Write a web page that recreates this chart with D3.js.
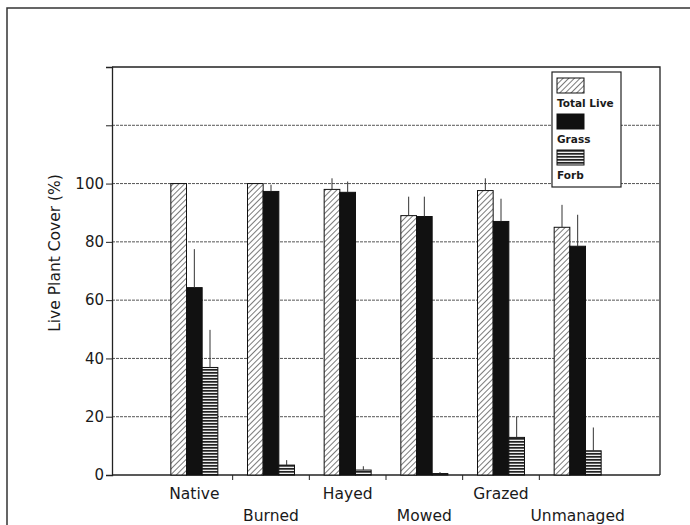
<!DOCTYPE html>
<html>
<head>
<meta charset="utf-8">
<script src="https://cdn.jsdelivr.net/npm/d3@7"></script>
<style>
  body { margin: 0; background: #fff; }
  text { font-family: 'DejaVu Sans', sans-serif; fill: #1a1a1a; }
</style>
</head>
<body>
<div class="chart"></div>
<script>
var categories = ['Native', 'Burned', 'Hayed', 'Mowed', 'Grazed', 'Unmanaged'];
var seriesNames = ['Total Live', 'Grass', 'Forb'];
var totalLive = [100, 100, 98, 89, 97.6, 85];
var totalLiveErr = [0, 0, 3.8, 6.5, 4.2, 7.7];
var grass = [64.3, 97.3, 97, 88.7, 87, 78.5];
var grassErr = [13.2, 2.3, 3.7, 6.8, 7.8, 10.8];
var forb = [36.9, 3.4, 1.7, 0.5, 12.9, 8.3];
var forbErr = [12.9, 1.7, 1.3, 0.5, 7, 8];
var yTicks = [0, 20, 40, 60, 80, 100, 120, 140];
var yTickLabels = ['0', '20', '40', '60', '80', '100', '', ''];

// plot box (window.top is read-only, so no bare "top" here)
var width = 690,
    height = 525,
    plotLeft = 112,
    plotRight = 660,
    plotTop = 67,
    plotBottom = 475;

var svg = d3.select('.chart').append('svg')
  .attr('width', width)
  .attr('height', height);

// fill patterns
var defs = svg.append('defs');
var hatch = defs.append('pattern')
  .attr('id', 'hatch')
  .attr('patternUnits', 'userSpaceOnUse')
  .attr('width', 4)
  .attr('height', 4)
  .attr('patternTransform', 'rotate(45)');
hatch.append('rect').attr('width', 4).attr('height', 4).attr('fill', '#fff');
hatch.append('line')
  .attr('x1', 0).attr('y1', 0).attr('x2', 0).attr('y2', 4)
  .attr('stroke', '#333').attr('stroke-width', 1.3);

var stripes = defs.append('pattern')
  .attr('id', 'stripes')
  .attr('patternUnits', 'userSpaceOnUse')
  .attr('width', 4)
  .attr('height', 3);
stripes.append('rect').attr('width', 4).attr('height', 3).attr('fill', '#eee');
stripes.append('rect').attr('width', 4).attr('height', 1.7).attr('fill', '#222');

var fills = ['url(#hatch)', '#111', 'url(#stripes)'];

// outer frame
svg.append('rect')
  .attr('x', 7).attr('y', 8)
  .attr('width', 700).attr('height', 600)
  .attr('fill', 'none')
  .attr('stroke', '#333')
  .attr('stroke-width', 1.5);

var y = d3.scaleLinear().domain([0, 140]).range([plotBottom, plotTop]);
var x = d3.scaleBand().domain(categories).range([156, 616]);
var xInner = d3.scaleBand().domain(seriesNames).range([0, 47]);

// gridlines
svg.append('g').attr('class', 'grid')
  .selectAll('line')
  .data(yTicks.filter(function(d) { return d > 0 && d < 140; }))
  .enter().append('line')
    .attr('x1', plotLeft).attr('x2', plotRight)
    .attr('y1', function(d) { return y(d); })
    .attr('y2', function(d) { return y(d); })
    .attr('stroke', '#555')
    .attr('stroke-width', 1)
    .attr('stroke-dasharray', '3,1');

// plot border (top and right)
svg.append('path')
  .attr('d', 'M' + plotLeft + ',' + plotTop + 'H' + plotRight + 'V' + plotBottom)
  .attr('fill', 'none')
  .attr('stroke', '#222')
  .attr('stroke-width', 1.3);

// y axis
var yAxis = d3.axisLeft(y)
  .tickValues(yTicks)
  .tickSize(6)
  .tickPadding(2)
  .tickFormat(function(d, i) { return yTickLabels[i]; });
var gy = svg.append('g')
  .attr('transform', 'translate(' + plotLeft + ',0)')
  .call(yAxis);
gy.select('.domain').attr('stroke', '#222').attr('stroke-width', 1.3);
gy.selectAll('.tick line').attr('stroke', '#222');
gy.selectAll('.tick text')
  .attr('font-size', 15)
  .attr('font-family', "'DejaVu Sans', sans-serif")
  .attr('fill', '#1a1a1a');

// x axis: line with ticks between categories
svg.append('line')
  .attr('x1', plotLeft).attr('x2', plotRight)
  .attr('y1', plotBottom).attr('y2', plotBottom)
  .attr('stroke', '#222')
  .attr('stroke-width', 1.3);
svg.append('g')
  .selectAll('line')
  .data(categories.slice(1))
  .enter().append('line')
    .attr('x1', function(d) { return x(d); })
    .attr('x2', function(d) { return x(d); })
    .attr('y1', plotBottom)
    .attr('y2', plotBottom + 5)
    .attr('stroke', '#222');

svg.append('g')
  .selectAll('text')
  .data(categories)
  .enter().append('text')
    .attr('x', function(d) { return x(d) + x.bandwidth() / 2; })
    .attr('y', function(d, i) { return i % 2 === 0 ? 499 : 521; })
    .attr('text-anchor', 'middle')
    .attr('font-size', 15.5)
    .text(function(d) { return d; });

// y title
svg.append('text')
  .attr('transform', 'translate(60,253) rotate(-90)')
  .attr('text-anchor', 'middle')
  .attr('font-size', 15.5)
  .text('Live Plant Cover (%)');

// bars, one entry per series and category
var values = [totalLive, grass, forb];
var errors = [totalLiveErr, grassErr, forbErr];
var bars = [];
seriesNames.forEach(function(name, s) {
  categories.forEach(function(cat, i) {
    bars.push({ series: name, s: s, cat: cat, value: values[s][i], err: errors[s][i] });
  });
});

function barX(d) {
  return x(d.cat) + x.bandwidth() / 2 - 23.5 + xInner(d.series);
}

var gBars = svg.append('g').attr('class', 'bars');
gBars.selectAll('rect')
  .data(bars)
  .enter().append('rect')
    .attr('x', barX)
    .attr('y', function(d) { return y(d.value); })
    .attr('width', xInner.bandwidth())
    .attr('height', function(d) { return y(0) - y(d.value); })
    .attr('fill', function(d) { return fills[d.s]; })
    .attr('stroke', '#111')
    .attr('stroke-width', 1);

gBars.selectAll('line')
  .data(bars.filter(function(d) { return d.err > 0; }))
  .enter().append('line')
    .attr('x1', function(d) { return barX(d) + xInner.bandwidth() / 2; })
    .attr('x2', function(d) { return barX(d) + xInner.bandwidth() / 2; })
    .attr('y1', function(d) { return y(d.value); })
    .attr('y2', function(d) { return y(d.value + d.err); })
    .attr('stroke', '#333')
    .attr('stroke-width', 1);

// legend
var legend = svg.append('g').attr('class', 'legend');
legend.append('rect')
  .attr('x', 552).attr('y', 72)
  .attr('width', 69).attr('height', 115)
  .attr('fill', '#fff')
  .attr('stroke', '#222')
  .attr('stroke-width', 1.2);
var items = legend.selectAll('g.item')
  .data(seriesNames)
  .enter().append('g')
    .attr('class', 'item')
    .attr('transform', function(d, i) { return 'translate(557,' + (78 + i * 36) + ')'; });
items.append('rect')
  .attr('width', 27).attr('height', 15)
  .attr('fill', function(d, i) { return fills[i]; })
  .attr('stroke', '#111');
items.append('text')
  .attr('x', 0).attr('y', 29)
  .attr('font-size', 10.5)
  .attr('font-weight', 'bold')
  .text(function(d) { return d; });
</script>
</body>
</html>
